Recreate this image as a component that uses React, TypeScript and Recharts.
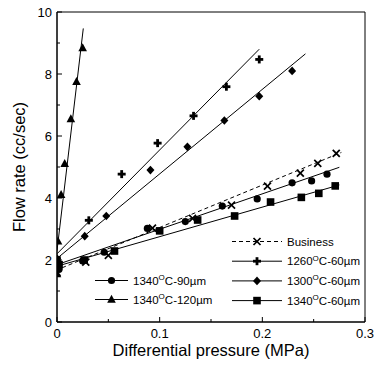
import { ScatterChart, Scatter, XAxis, YAxis, ReferenceArea, Legend } from 'recharts';

// measured points (x = MPa, y = cc/sec)
const businessX = [0, 0.028, 0.05, 0.093, 0.132, 0.17, 0.205, 0.237, 0.254, 0.272];
const businessY = [1.6, 1.93, 2.15, 3.03, 3.34, 3.77, 4.38, 4.8, 5.12, 5.44];
const c1260X = [0, 0.031, 0.063, 0.098, 0.133, 0.165, 0.197];
const c1260Y = [1.95, 3.28, 4.77, 5.77, 6.65, 7.59, 8.47];
const c1300X = [0, 0.027, 0.048, 0.091, 0.127, 0.163, 0.197, 0.229];
const c1300Y = [2.05, 2.77, 3.42, 4.9, 5.65, 6.5, 7.28, 8.1];
const c1340s60X = [0, 0, 0.002, 0.0265, 0.056, 0.1, 0.137, 0.173, 0.208, 0.238, 0.255, 0.271];
const c1340s60Y = [1.75, 2.0, 1.85, 2.0, 2.29, 2.94, 3.29, 3.42, 3.87, 4.02, 4.15, 4.39];
const c1340s90X = [0, 0.002, 0.025, 0.046, 0.088, 0.125, 0.161, 0.195, 0.229, 0.248, 0.263];
const c1340s90Y = [1.85, 1.7, 1.97, 2.25, 3.02, 3.24, 3.74, 3.97, 4.49, 4.55, 4.77];
const c1340s120X = [0, 0.001, 0.004, 0.0075, 0.0135, 0.019, 0.025];
const c1340s120Y = [1.55, 2.6, 4.1, 5.1, 6.55, 7.75, 8.84];

// fitted lines, start and end
const fitBusinessX = [0.005, 0.277];
const fitBusinessY = [1.75, 5.47];
const fit1260X = [0, 0.197];
const fit1260Y = [2.2, 8.8];
const fit1300X = [0, 0.242];
const fit1300Y = [2.05, 8.65];
const fit1340s60X = [0, 0.275];
const fit1340s60Y = [1.8, 4.42];
const fit1340s90X = [0, 0.275];
const fit1340s90Y = [1.85, 4.99];
const fit1340s120X = [0, 0.0256];
const fit1340s120Y = [2.3, 9.47];

const xTicks = [0, 0.05, 0.1, 0.15, 0.2, 0.25, 0.3];
const yTicks = [0, 1, 2, 3, 4, 5, 6, 7, 8, 9, 10];

const zip = (xs: number[], ys: number[]) => xs.map((x, i) => ({ x, y: ys[i] }));

type Kind = 'x' | 'plus' | 'diamond' | 'square' | 'circle' | 'triangle';

function Marker({ kind, cx, cy }: { kind: Kind; cx: number; cy: number }) {
  switch (kind) {
    case 'circle':
      return <circle cx={cx} cy={cy} r={3.6} fill="#000" />;
    case 'triangle':
      return <polygon points={`${cx},${cy - 4.8} ${cx - 4.3},${cy + 3.2} ${cx + 4.3},${cy + 3.2}`} fill="#000" />;
    case 'diamond':
      return <polygon points={`${cx},${cy - 4.3} ${cx + 4},${cy} ${cx},${cy + 4.3} ${cx - 4},${cy}`} fill="#000" />;
    case 'square':
      return <rect x={cx - 3.8} y={cy - 3.8} width={7.6} height={7.6} fill="#000" />;
    case 'plus':
      return (
        <g fill="#000">
          <rect x={cx - 4} y={cy - 1.4} width={8} height={2.8} />
          <rect x={cx - 1.4} y={cy - 4} width={2.8} height={8} />
        </g>
      );
    default:
      return (
        <g stroke="#000" strokeWidth={1.7}>
          <line x1={cx - 3.5} y1={cy - 3.5} x2={cx + 3.5} y2={cy + 3.5} />
          <line x1={cx - 3.5} y1={cy + 3.5} x2={cx + 3.5} y2={cy - 3.5} />
        </g>
      );
  }
}

const shapeOf = (kind: Kind) => (props: any) => <Marker kind={kind} cx={props.cx} cy={props.cy} />;
const noShape = () => <g />;

function XTick({ x, y, payload }: any) {
  const v = payload.value;
  const major = Math.round(v * 100) % 10 === 0;
  return (
    <g>
      <line x1={x} y1={y} x2={x} y2={y - (major ? 5 : 3)} stroke="#000" />
      {major && (
        <text x={x} y={y + 16} textAnchor="middle" fontSize={13} fill="#000">
          {v === 0 ? '0' : v.toFixed(1)}
        </text>
      )}
    </g>
  );
}

function YTick({ x, y, payload }: any) {
  const v = payload.value;
  const major = v % 2 === 0;
  return (
    <g>
      <line x1={x} y1={y} x2={x + (major ? 5 : 3)} y2={y} stroke="#000" />
      {major && (
        <text x={x - 5} y={y + 4.5} textAnchor="end" fontSize={13} fill="#000">
          {v}
        </text>
      )}
    </g>
  );
}

const legendLeft = [
  { kind: 'circle' as Kind, label: ['1340', 'C-90µm'], dashed: false },
  { kind: 'triangle' as Kind, label: ['1340', 'C-120µm'], dashed: false },
];
const legendRight = [
  { kind: 'x' as Kind, label: ['Business'], dashed: true },
  { kind: 'plus' as Kind, label: ['1260', 'C-60µm'], dashed: false },
  { kind: 'diamond' as Kind, label: ['1300', 'C-60µm'], dashed: false },
  { kind: 'square' as Kind, label: ['1340', 'C-60µm'], dashed: false },
];

function LegendRow({ item, x0, x1, y }: any) {
  return (
    <g>
      <line x1={x0} y1={y} x2={x1} y2={y} stroke="#000" strokeWidth={1} strokeDasharray={item.dashed ? '4 3' : undefined} />
      <Marker kind={item.kind} cx={(x0 + x1) / 2} cy={y} />
      <text x={x1 + 5} y={y + 4} fontSize={11.5} fill="#000">
        {item.label[0]}
        {item.label.length > 1 && (
          <>
            <tspan dy={-4.5} fontSize={8}>O</tspan>
            <tspan dy={4.5}>{item.label[1]}</tspan>
          </>
        )}
      </text>
    </g>
  );
}

function ChartLegend() {
  return (
    <svg width={375} height={365} style={{ position: 'absolute', left: 0, top: 0, fontFamily: '"Liberation Sans", Arial, sans-serif' }}>
      {legendLeft.map((it, i) => (
        <LegendRow key={i} item={it} x0={95} x1={128} y={280.5 + i * 19} />
      ))}
      {legendRight.map((it, i) => (
        <LegendRow key={i} item={it} x0={232} x1={282} y={241.5 + i * 19.7} />
      ))}
    </svg>
  );
}

const lineStyle = { stroke: '#000', strokeWidth: 1 };

export default function App() {
  return (
    <div style={{ position: 'absolute', left: 0, top: 0, width: 375, height: 365 }}>
      <ScatterChart
        width={375}
        height={365}
        margin={{ top: 12, right: 10, left: 0, bottom: 0 }}
        style={{ fontFamily: '"Liberation Sans", Arial, sans-serif' }}
      >
        <XAxis
          type="number"
          dataKey="x"
          domain={[0, 0.3]}
          ticks={xTicks}
          interval={0}
          height={43}
          tickSize={0}
          tickMargin={0}
          tickLine={false}
          tick={<XTick />}
          axisLine={{ stroke: '#000' }}
          allowDataOverflow
          label={{ value: 'Differential pressure (MPa)', position: 'insideBottom', offset: 9, fontSize: 16.5, fill: '#000' }}
        />
        <YAxis
          type="number"
          dataKey="y"
          domain={[0, 10]}
          ticks={yTicks}
          interval={0}
          width={57}
          tickSize={0}
          tickMargin={0}
          tickLine={false}
          tick={<YTick />}
          axisLine={{ stroke: '#000' }}
          allowDataOverflow
          label={{ value: 'Flow rate (cc/sec)', angle: -90, position: 'insideLeft', offset: 19, fontSize: 16.5, fill: '#000', style: { textAnchor: 'middle' } }}
        />
        <ReferenceArea x1={0} x2={0.3} y1={0} y2={10} fill="none" stroke="#000" strokeWidth={1} />

        <Scatter data={zip(fitBusinessX, fitBusinessY)} line={{ ...lineStyle, strokeDasharray: '4 3' }} shape={noShape} isAnimationActive={false} />
        <Scatter data={zip(fit1260X, fit1260Y)} line={lineStyle} shape={noShape} isAnimationActive={false} />
        <Scatter data={zip(fit1300X, fit1300Y)} line={lineStyle} shape={noShape} isAnimationActive={false} />
        <Scatter data={zip(fit1340s60X, fit1340s60Y)} line={lineStyle} shape={noShape} isAnimationActive={false} />
        <Scatter data={zip(fit1340s90X, fit1340s90Y)} line={lineStyle} shape={noShape} isAnimationActive={false} />
        <Scatter data={zip(fit1340s120X, fit1340s120Y)} line={lineStyle} shape={noShape} isAnimationActive={false} />

        <Scatter name="Business" data={zip(businessX, businessY)} shape={shapeOf('x')} isAnimationActive={false} />
        <Scatter name="1260" data={zip(c1260X, c1260Y)} shape={shapeOf('plus')} isAnimationActive={false} />
        <Scatter name="1300" data={zip(c1300X, c1300Y)} shape={shapeOf('diamond')} isAnimationActive={false} />
        <Scatter name="1340-60" data={zip(c1340s60X, c1340s60Y)} shape={shapeOf('square')} isAnimationActive={false} />
        <Scatter name="1340-90" data={zip(c1340s90X, c1340s90Y)} shape={shapeOf('circle')} isAnimationActive={false} />
        <Scatter name="1340-120" data={zip(c1340s120X, c1340s120Y)} shape={shapeOf('triangle')} isAnimationActive={false} />

        <Legend
          layout="horizontal"
          verticalAlign="middle"
          align="center"
          content={() => <ChartLegend />}
          wrapperStyle={{ position: 'absolute', left: 0, top: 0, width: 375, height: 365, pointerEvents: 'none' }}
        />
      </ScatterChart>
    </div>
  );
}
